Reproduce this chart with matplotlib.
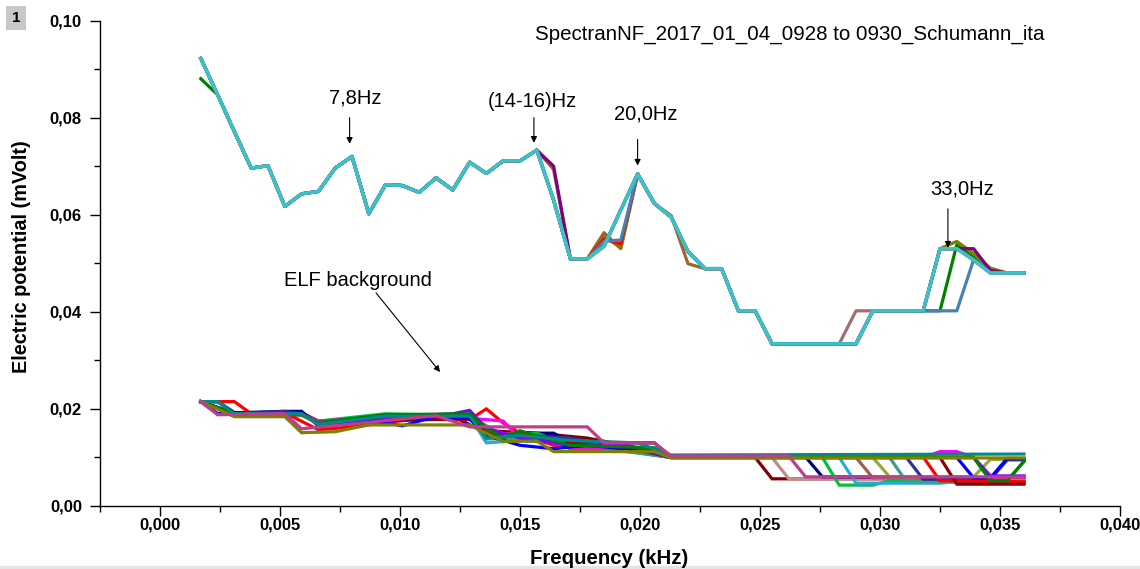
import matplotlib

matplotlib.use("Agg")

import matplotlib.pyplot as plt
import numpy as np
from matplotlib.patches import Rectangle
from matplotlib.ticker import FuncFormatter, MultipleLocator

plt.rcParams["font.family"] = ["Liberation Sans", "DejaVu Sans"]

# spectrum bins in kHz (0.7 Hz step, 1.7 Hz .. 36.0 Hz)
freq = np.round(0.0017 + 0.0007 * np.arange(50), 4)

# upper trace (Schumann window), mVolt per bin
schumann_main = [
    0.0922, 0.0847, 0.0771, 0.0696, 0.0701, 0.0617, 0.0643, 0.0648, 0.0696, 0.0720,
    0.0602, 0.0662, 0.0660, 0.0646, 0.0676, 0.0651, 0.0708, 0.0685, 0.0711, 0.0711,
    0.0733, 0.0630, 0.0509, 0.0509, 0.0535, 0.0610, 0.0684, 0.0623, 0.0595, 0.0524,
    0.0489, 0.0489, 0.0402, 0.0402, 0.0334, 0.0334, 0.0334, 0.0334, 0.0334, 0.0334,
    0.0402, 0.0402, 0.0402, 0.0402, 0.0530, 0.0530, 0.0507, 0.0480, 0.0480, 0.0480,
]
main_color = "#35C4CC"

# other sweeps of the upper trace: only the bins where they leave the main one
schumann_other = [
    ("#008000", {0: 0.0880, 44: 0.0402, 45: 0.0538, 46: 0.0512}),
    ("#A0642D", {21: 0.0693, 24: 0.0563, 25: 0.0530, 28: 0.0598, 29: 0.0499}),
    ("#808000", {24: 0.0555, 25: 0.0532, 45: 0.0545, 46: 0.0520, 47: 0.0490}),
    ("#800080", {21: 0.0700, 45: 0.0530, 46: 0.0530, 47: 0.0485}),
    ("#FF0000", {24: 0.0550, 25: 0.0540}),
    ("#4682B4", {24: 0.0545, 25: 0.0548, 44: 0.0402, 45: 0.0402, 46: 0.0507}),
    ("#A07070", {39: 0.0402}),
]

# ELF background sweeps: (bin index, mVolt) vertices
background = [
    ("#800000", [(0, .0215), (1, .0215), (2, .0192), (6, .0192), (7, .0175), (11, .0180), (16, .0183),
                 (17, .0155), (20, .0150), (23, .0140), (26, .0120), (28, .0100), (33, .0100), (34, .0056),
                 (44, .0056), (45, .0048), (49, .0048)]),
    ("#BC8F8F", [(0, .0215), (2, .0188), (6, .0190), (7, .0170), (12, .0182), (16, .0182), (17, .0148),
                 (21, .0140), (24, .0122), (28, .0100), (34, .0100), (35, .0056), (42, .0056), (43, .0050),
                 (49, .0050)]),
    ("#000080", [(0, .0215), (1, .0215), (2, .0192), (5, .0195), (6, .0195), (7, .0165), (10, .0172),
                 (15, .0185), (17, .0150), (21, .0150), (22, .0130), (27, .0130), (28, .0101), (36, .0101),
                 (37, .0060), (49, .0058)]),
    ("#00C040", [(0, .0215), (2, .0190), (6, .0188), (7, .0175), (11, .0190), (16, .0186), (17, .0165),
                 (18, .0145), (20, .0150), (22, .0125), (27, .0118), (28, .0100), (37, .0100), (38, .0043),
                 (40, .0043), (41, .0052), (48, .0052), (49, .0092)]),
    ("#2EA8D8", [(0, .0215), (1, .0215), (2, .0188), (6, .0188), (7, .0172), (10, .0183), (16, .0185),
                 (17, .0130), (19, .0135), (21, .0130), (24, .0118), (28, .0100), (38, .0100), (39, .0047),
                 (44, .0047), (45, .0050), (49, .0050)]),
    ("#A0604A", [(0, .0215), (2, .0190), (6, .0190), (7, .0168), (11, .0178), (16, .0178), (17, .0152),
                 (20, .0145), (23, .0125), (28, .0100), (39, .0100), (40, .0058), (49, .0058)]),
    ("#98A83C", [(0, .0215), (2, .0186), (6, .0186), (7, .0170), (12, .0184), (16, .0180), (17, .0146),
                 (21, .0135), (25, .0118), (28, .0100), (40, .0100), (41, .0060), (46, .0060), (47, .0096),
                 (49, .0096)]),
    ("#3A9E8C", [(0, .0215), (1, .0190), (6, .0190), (7, .0172), (11, .0186), (16, .0184), (17, .0138),
                 (20, .0140), (24, .0120), (28, .0100), (41, .0100), (42, .0050), (49, .0050)]),
    ("#30309A", [(0, .0215), (2, .0190), (5, .0195), (6, .0190), (7, .0170), (12, .0180), (16, .0186),
                 (17, .0150), (22, .0140), (26, .0115), (28, .0100), (42, .0100), (43, .0055), (47, .0055),
                 (48, .0095), (49, .0095)]),
    ("#FF0000", [(0, .0215), (2, .0215), (3, .0190), (5, .0192), (7, .0157), (9, .0163), (13, .0180),
                 (16, .0178), (17, .0200), (18, .0171), (19, .0150), (21, .0125), (26, .0118), (28, .0101),
                 (43, .0101), (44, .0052), (49, .0050)]),
    ("#FF00FF", [(0, .0215), (2, .0190), (6, .0188), (7, .0175), (12, .0185), (16, .0180), (17, .0178),
                 (18, .0175), (19, .0138), (20, .0140), (22, .0118), (27, .0115), (28, .0100), (43, .0100),
                 (44, .0112), (45, .0112), (46, .0100), (47, .0060), (49, .0060)]),
    ("#8B0000", [(0, .0215), (2, .0191), (6, .0191), (7, .0168), (11, .0176), (16, .0180), (17, .0150),
                 (22, .0130), (26, .0118), (28, .0100), (44, .0100), (45, .0045), (49, .0045)]),
    ("#0000FF", [(0, .0215), (1, .0190), (6, .0190), (7, .0170), (9, .0170), (10, .0178), (12, .0165),
                 (14, .0185), (16, .0180), (17, .0145), (19, .0125), (21, .0118), (23, .0125), (27, .0112),
                 (28, .0100), (45, .0100), (46, .0058), (47, .0058), (48, .0098), (49, .0098)]),
    ("#8000FF", [(0, .0215), (2, .0190), (6, .0190), (7, .0170), (11, .0183), (15, .0190), (16, .0197),
                 (17, .0160), (19, .0140), (22, .0125), (25, .0128), (28, .0100), (46, .0100), (47, .0062),
                 (49, .0062)]),
    ("#008000", [(0, .0215), (2, .0190), (6, .0188), (7, .0172), (11, .0188), (16, .0190), (17, .0160),
                 (18, .0140), (19, .0155), (22, .0125), (27, .0120), (28, .0100), (46, .0100), (47, .0052),
                 (48, .0052), (49, .0092)]),
    ("#008B8B", [(0, .0215), (1, .0215), (2, .0190), (6, .0190), (7, .0168), (11, .0185), (16, .0185),
                 (17, .0140), (19, .0145), (22, .0135), (26, .0130), (28, .0105), (49, .0107)]),
    ("#808000", [(0, .0215), (2, .0184), (5, .0184), (6, .0151), (8, .0153), (10, .0167), (16, .0167),
                 (17, .0150), (18, .0133), (20, .0134), (21, .0112), (27, .0112), (28, .0099), (49, .0099)]),
    ("#C03C8C", [(0, .0215), (1, .0188), (5, .0190), (6, .0159), (14, .0186), (16, .0163), (23, .0163),
                 (24, .0130), (27, .0130), (28, .0103), (35, .0103), (36, .0060), (49, .0060)]),
]

# peak labels: text, text position, arrow tail, arrow head (kHz, mVolt)
peak_text = ["7,8Hz", "(14-16)Hz", "20,0Hz", "33,0Hz", "ELF background"]
peak_text_xy = [(0.00815, 0.0841), (0.0155, 0.0833), (0.02025, 0.0808), (0.0334, 0.0652), (0.00825, 0.0464)]
peak_tail = [(0.0079, 0.0800), (0.01558, 0.0800), (0.0199, 0.0755), (0.03283, 0.0612), (0.0090, 0.0439)]
peak_head = [(0.0079, 0.0746), (0.01558, 0.0748), (0.0199, 0.0701), (0.03283, 0.0532), (0.01167, 0.0276)]

title = "SpectranNF_2017_01_04_0928 to 0930_Schumann_ita"

fig = plt.figure(figsize=(11.4, 5.69), dpi=100)
ax = fig.add_axes([100 / 1140, 63 / 569, 1020 / 1140, 485.5 / 569])

lw = 2.3
for color, verts in background:
    idx = [v[0] for v in verts]
    ax.plot(freq[idx], [v[1] for v in verts], color=color, lw=lw, solid_joinstyle="miter")

for color, changes in schumann_other:
    y = list(schumann_main)
    for k, v in changes.items():
        y[k] = v
    ax.plot(freq, y, color=color, lw=lw)
ax.plot(freq, schumann_main, color=main_color, lw=lw + 0.2)

for txt, txy, tail, head in zip(peak_text, peak_text_xy, peak_tail, peak_head):
    ax.text(txy[0], txy[1], txt, ha="center", va="center", fontsize=14.5)
    ax.annotate("", xy=head, xytext=tail,
                arrowprops=dict(arrowstyle="-|>", color="black", lw=0.8, mutation_scale=9,
                                shrinkA=0, shrinkB=0))

ax.text(0.02625, 0.0971, title, ha="center", va="center", fontsize=14.8)

ax.set_xlim(-0.0025, 0.0400)
ax.set_ylim(0.0, 0.100)
ax.xaxis.set_major_locator(MultipleLocator(0.005))
ax.xaxis.set_minor_locator(MultipleLocator(0.0025))
ax.yaxis.set_major_locator(MultipleLocator(0.02))
ax.yaxis.set_minor_locator(MultipleLocator(0.01))
ax.xaxis.set_major_formatter(FuncFormatter(lambda v, p: f"{v:.3f}".replace(".", ",").replace("-", "")))
ax.yaxis.set_major_formatter(FuncFormatter(lambda v, p: f"{v:.2f}".replace(".", ",")))
ax.tick_params(which="major", direction="out", length=7, width=1, labelsize=12)
ax.tick_params(axis="x", which="major", pad=1.5)
ax.tick_params(axis="y", which="major", pad=6)
ax.tick_params(which="minor", direction="out", length=4, width=1)
for lab in ax.get_xticklabels() + ax.get_yticklabels():
    lab.set_fontweight("bold")
for side in ("top", "right"):
    ax.spines[side].set_visible(False)
for side in ("left", "bottom"):
    ax.spines[side].set_linewidth(1.0)

fig.text(22 / 1140, 1 - 257 / 569, "Electric potential (mVolt)", rotation=90,
         ha="center", va="center", fontsize=14.3, fontweight="bold")
fig.text(609 / 1140, 1 - 559 / 569, "Frequency (kHz)", ha="center", va="center",
         fontsize=14.7, fontweight="bold")
fig.text(16 / 1140, 1 - 18 / 569, "1", ha="center", va="center", fontsize=11, fontweight="bold",
         bbox=dict(boxstyle="square,pad=0.35", fc="#C8C8C8", ec="none"))
fig.patches.append(Rectangle((0, 0), 1, 3 / 569, transform=fig.transFigure, color="#E4E4E4"))

fig.savefig("out.png", dpi=100)
